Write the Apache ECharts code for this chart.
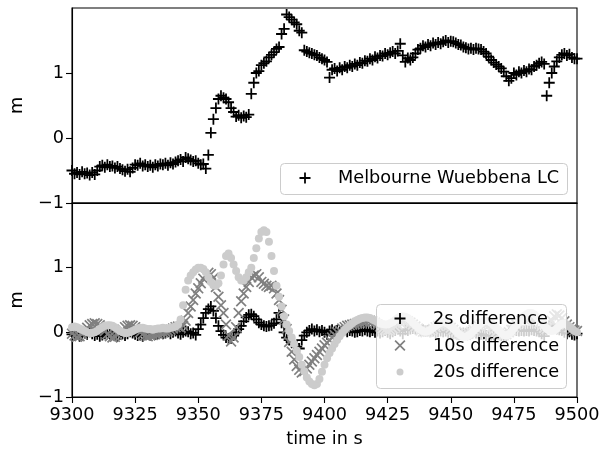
<!DOCTYPE html>
<html>
<head>
<meta charset="utf-8">
<script src="https://cdn.jsdelivr.net/npm/echarts@6/dist/echarts.min.js"></script>
<style>html,body{margin:0;padding:0;background:#fff}#c{width:600px;height:453px}</style>
</head>
<body>
<div id="c"></div>
<script>
// time axis: one sample per second, 9300 .. 9500
const tStart = 9300;
const xTicks = [9300, 9325, 9350, 9375, 9400, 9425, 9450, 9475, 9500];
const yTicks = [-1, 0, 1];

// top panel: Melbourne Wuebbena LC (m)
const wuebbena = [
 -0.50,-0.55,-0.53,-0.56,-0.52,-0.55,-0.54,-0.57,-0.53,-0.56,
 -0.50,-0.44,-0.42,-0.45,-0.41,-0.44,-0.43,-0.46,-0.44,-0.47,
 -0.49,-0.51,-0.48,-0.52,-0.46,-0.41,-0.42,-0.39,-0.43,-0.41,
 -0.44,-0.42,-0.45,-0.41,-0.43,-0.40,-0.41,-0.39,-0.42,-0.38,
 -0.40,-0.37,-0.35,-0.33,-0.36,-0.30,-0.32,-0.34,-0.36,-0.35,
 -0.39,-0.41,-0.40,-0.47,-0.26,0.08,0.29,0.46,0.60,0.65,
 0.62,0.60,0.55,0.46,0.40,0.33,0.35,0.31,0.34,0.32,
 0.36,0.68,0.85,1.00,1.03,1.12,1.15,1.18,1.24,1.28,
 1.32,1.37,1.40,1.60,1.68,1.90,1.86,1.82,1.78,1.75,
 1.65,1.62,1.35,1.33,1.31,1.30,1.28,1.27,1.24,1.22,
 1.20,1.17,0.93,1.05,1.07,1.03,1.08,1.05,1.10,1.08,
 1.12,1.10,1.14,1.12,1.16,1.15,1.19,1.18,1.22,1.20,
 1.25,1.23,1.27,1.26,1.30,1.28,1.31,1.33,1.30,1.34,
 1.45,1.27,1.17,1.23,1.20,1.24,1.30,1.36,1.38,1.42,
 1.40,1.44,1.42,1.46,1.44,1.47,1.45,1.48,1.50,1.47,
 1.49,1.48,1.46,1.44,1.43,1.40,1.39,1.37,1.38,1.36,
 1.38,1.37,1.36,1.33,1.30,1.25,1.20,1.16,1.13,1.10,
 1.07,1.02,0.95,0.88,0.92,1.00,0.97,1.02,1.00,1.04,
 1.02,1.06,1.05,1.10,1.12,1.15,1.17,1.14,0.65,0.85,
 1.00,1.10,1.18,1.24,1.28,1.30,1.27,1.29,1.24,1.22,
 1.22
];

// bottom panel: differences (m)
const diff2s = [
 -0.03,-0.05,-0.02,-0.06,-0.04,-0.01,-0.03,0.01,-0.02,-0.05,
 -0.03,-0.06,-0.04,-0.02,0.00,-0.03,-0.01,-0.04,-0.06,-0.03,
 -0.02,-0.05,-0.02,0.01,-0.01,-0.03,-0.05,-0.04,-0.06,-0.03,
 -0.02,-0.04,-0.01,-0.03,-0.02,0.00,-0.02,-0.01,0.01,-0.02,
 0.00,0.02,-0.01,-0.03,0.00,0.02,0.01,-0.02,-0.01,-0.04,
 0.05,0.12,0.22,0.30,0.36,0.40,0.33,0.22,0.10,0.02,
 -0.04,-0.08,-0.10,-0.09,-0.05,0.00,0.05,0.10,0.17,0.23,
 0.27,0.28,0.25,0.20,0.15,0.12,0.10,0.09,0.10,0.11,
 0.14,0.20,0.30,0.15,0.00,-0.08,-0.12,-0.16,-0.18,-0.22,
 -0.25,-0.12,-0.05,0.00,0.03,0.05,0.02,0.04,0.01,0.03,
 0.00,-0.03,0.02,0.04,0.01,0.03,0.00,0.02,0.04,0.01,
 0.03,0.02,0.00,0.01,0.03,0.02,0.04,0.02,0.01,0.03,
 0.00,0.02,-0.01,0.01,0.03,0.00,-0.02,0.01,0.03,0.05,
 0.02,-0.02,0.04,0.03,0.05,0.06,0.05,0.06,0.03,0.04,
 0.02,0.03,0.01,0.02,0.00,0.01,0.02,0.01,0.02,0.00,
 -0.01,-0.02,-0.01,-0.03,-0.02,-0.01,-0.02,0.00,-0.01,0.01,
 -0.01,-0.02,-0.03,-0.04,-0.05,-0.05,-0.04,-0.04,-0.03,-0.03,
 -0.05,-0.07,-0.05,0.02,0.03,0.04,0.03,0.02,0.03,0.02,
 0.03,0.02,0.04,0.03,0.02,0.01,-0.02,-0.06,0.05,0.10,
 0.08,0.06,0.05,0.04,0.03,0.00,-0.02,0.01,-0.03,-0.04,
 -0.02
];
const diff10s = [
 -0.02,-0.05,-0.07,-0.06,-0.03,0.02,0.07,0.11,0.13,0.14,
 0.13,0.11,0.07,0.02,-0.03,-0.06,-0.08,-0.07,-0.04,0.00,
 0.04,0.08,0.10,0.11,0.10,0.08,0.04,0.00,-0.03,-0.05,
 -0.06,-0.05,-0.04,-0.03,-0.02,-0.01,0.00,0.01,0.02,0.04,
 0.06,0.08,0.09,0.07,0.10,0.18,0.30,0.40,0.50,0.60,
 0.68,0.76,0.83,0.88,0.92,0.90,0.84,0.70,0.55,0.42,
 0.30,0.12,-0.05,-0.14,-0.08,0.08,0.30,0.48,0.60,0.70,
 0.78,0.85,0.88,0.90,0.85,0.78,0.75,0.72,0.70,0.72,
 0.68,0.60,0.50,0.35,0.20,0.05,-0.15,-0.30,-0.42,-0.52,
 -0.58,-0.62,-0.60,-0.56,-0.50,-0.45,-0.40,-0.35,-0.30,-0.25,
 -0.20,-0.16,-0.12,-0.08,-0.04,0.00,0.03,0.06,0.08,0.10,
 0.11,0.12,0.13,0.14,0.15,0.16,0.17,0.18,0.18,0.17,
 0.15,0.12,0.09,0.06,0.04,0.03,0.04,0.06,0.09,0.12,
 0.15,0.17,0.18,0.17,0.15,0.12,0.09,0.06,0.03,0.01,
 0.00,0.01,0.03,0.05,0.08,0.10,0.12,0.13,0.12,0.10,
 0.07,0.04,0.01,-0.02,-0.04,-0.05,-0.04,-0.02,0.01,0.04,
 0.07,0.10,0.12,0.13,0.12,0.10,0.07,0.04,0.01,-0.02,
 -0.04,-0.05,-0.03,0.00,0.04,0.08,0.12,0.15,0.18,0.20,
 0.22,0.23,0.22,0.20,0.17,0.14,0.10,0.07,0.05,0.10,
 0.18,0.25,0.28,0.26,0.22,0.17,0.12,0.08,0.05,0.03,
 0.02
];
const diff20s = [
 0.08,0.09,0.08,0.06,0.04,0.02,0.00,-0.01,-0.01,0.00,
 0.02,0.05,0.08,0.10,0.11,0.11,0.10,0.08,0.05,0.02,
 0.00,-0.01,-0.01,0.00,0.02,0.04,0.06,0.07,0.07,0.06,
 0.05,0.05,0.04,0.05,0.06,0.06,0.07,0.06,0.06,0.07,
 0.08,0.09,0.12,0.20,0.42,0.66,0.80,0.88,0.93,0.97,
 1.00,1.00,0.98,0.93,0.85,0.78,0.73,0.72,0.76,0.88,
 1.05,1.18,1.22,1.15,1.05,0.95,0.85,0.80,0.80,0.85,
 0.93,1.00,1.15,1.30,1.45,1.55,1.58,1.55,1.40,1.18,
 0.95,0.72,0.55,0.40,0.25,0.12,0.02,-0.08,-0.18,-0.28,
 -0.38,-0.50,-0.60,-0.70,-0.76,-0.80,-0.82,-0.80,-0.72,-0.61,
 -0.50,-0.40,-0.32,-0.25,-0.18,-0.12,-0.06,-0.01,0.04,0.08,
 0.11,0.14,0.17,0.19,0.21,0.22,0.23,0.23,0.22,0.20,
 0.18,0.16,0.14,0.13,0.12,0.12,0.14,0.16,0.19,0.22,
 0.24,0.25,0.24,0.22,0.19,0.15,0.11,0.07,0.04,0.02,
 0.01,0.02,0.04,0.07,0.10,0.13,0.15,0.16,0.15,0.13,
 0.10,0.06,0.02,-0.02,-0.05,-0.07,-0.07,-0.05,-0.02,0.02,
 0.06,0.10,0.14,0.17,0.18,0.17,0.15,0.11,0.07,0.03,
 -0.01,-0.04,-0.05,-0.03,0.01,0.06,0.11,0.16,0.21,0.25,
 0.28,0.30,0.30,0.28,0.24,0.20,0.15,0.10,0.06,0.03,
 0.02,0.03,0.06,0.10,0.13,0.14,0.12,0.09,0.05,0.02,
 0.00
];

const seriesNames = ['Melbourne Wuebbena LC', '2s difference', '10s difference', '20s difference'];

const toPairs = arr => arr.map((v, i) => [tStart + i, v]);
const PLUS_PTS = [[4.2,0],[5.8,0],[5.8,4.2],[10,4.2],[10,5.8],[5.8,5.8],[5.8,10],[4.2,10],[4.2,5.8],[0,5.8],[0,4.2],[4.2,4.2]];
const CROSS_PTS = [[0,1.1],[1.1,0],[5,3.9],[8.9,0],[10,1.1],[6.1,5],[10,8.9],[8.9,10],[5,6.1],[1.1,10],[0,8.9],[3.9,5]];
const toPathSymbol = pts => 'path://M' + pts.map(p => p[0] + ',' + p[1]).join('L') + 'Z';
const PLUS = toPathSymbol(PLUS_PTS);
const CROSS = toPathSymbol(CROSS_PTS);
const FONT = 'DejaVu Sans';
const FS = 17.7;
const minus = v => String(v).replace('-', '\u2212');

const chart = echarts.init(document.getElementById('c'), null, {renderer: 'canvas'});
const xAxisBase = {
  type: 'value', min: 9300, max: 9500, interval: 25,
  axisLine: {show: true, onZero: false, lineStyle: {color: '#000', width: 1.1}},
  splitLine: {show: false}
};
const yAxisBase = {
  type: 'value', min: -1, max: 2, interval: 1,
  name: 'm', nameLocation: 'middle', nameGap: 46, nameRotate: 90,
  nameTextStyle: {fontFamily: FONT, fontSize: FS, color: '#000'},
  axisLine: {show: true, onZero: false, lineStyle: {color: '#000', width: 1.1}},
  axisTick: {show: true, length: 6, lineStyle: {color: '#000', width: 1.1}, customValues: yTicks},
  axisLabel: {fontFamily: FONT, fontSize: FS, color: '#000', margin: 8, customValues: yTicks, formatter: minus},
  splitLine: {show: false}
};

// legend boxes (matplotlib style: translucent white, light grey rounded frame)
const legendFrame = (x, y, w, h) => ({
  type: 'rect', z: 50, shape: {x: x, y: y, width: w, height: h, r: 4},
  style: {fill: 'rgba(255,255,255,0.8)', stroke: '#cccccc', lineWidth: 1}
});
const iconPoly = (pts, cx, cy, color) => ({
  type: 'polygon', z: 51,
  shape: {points: pts.map(p => [cx - 5.5 + p[0] * 1.1, cy - 5.5 + p[1] * 1.1])},
  style: {fill: color}
});
const legendText = (txt, x, y) => ({
  type: 'text', z: 51, x: x, y: y,
  style: {text: txt, fontFamily: FONT, fontSize: FS, fill: '#000', verticalAlign: 'middle', align: 'left'}
});

chart.setOption({
  animation: false,
  backgroundColor: '#fff',
  grid: [
    {left: 72, right: 23, top: 8, height: 195, show: true, borderColor: '#000', borderWidth: 1.1, outerBoundsMode: 'none'},
    {left: 72, right: 23, top: 203, height: 194, show: true, borderColor: '#000', borderWidth: 1.1, outerBoundsMode: 'none'}
  ],
  xAxis: [
    Object.assign({}, xAxisBase, {gridIndex: 0, axisTick: {show: false}, axisLabel: {show: false}}),
    Object.assign({}, xAxisBase, {gridIndex: 1,
      name: 'time in s', nameLocation: 'middle', nameGap: 33,
      nameTextStyle: {fontFamily: FONT, fontSize: FS, color: '#000'},
      axisTick: {show: true, length: 6, lineStyle: {color: '#000', width: 1.1}, customValues: xTicks},
      axisLabel: {fontFamily: FONT, fontSize: FS, color: '#000', margin: 9, customValues: xTicks,
        formatter: v => String(v)}})
  ],
  yAxis: [
    Object.assign({}, yAxisBase, {gridIndex: 0}),
    Object.assign({}, yAxisBase, {gridIndex: 1})
  ],
  graphic: [
    legendFrame(280.5, 163.5, 287, 31),
    iconPoly(PLUS_PTS, 305, 178, '#000'),
    legendText(seriesNames[0], 338, 178.5),
    legendFrame(376.5, 304.5, 190, 84),
    iconPoly(PLUS_PTS, 400, 318.5, '#000'),
    legendText(seriesNames[1], 433, 319),
    iconPoly(CROSS_PTS, 400, 345.5, '#808080'),
    legendText(seriesNames[2], 433, 346),
    {type: 'circle', z: 51, shape: {cx: 400, cy: 372, r: 3.5}, style: {fill: '#cccccc'}},
    legendText(seriesNames[3], 433, 372.5)
  ],
  series: [
    {name: seriesNames[0], type: 'scatter', xAxisIndex: 0, yAxisIndex: 0, data: toPairs(wuebbena),
     symbol: PLUS, symbolSize: 11, itemStyle: {color: '#000', opacity: 1}},
    {name: seriesNames[1], type: 'scatter', xAxisIndex: 1, yAxisIndex: 1, data: toPairs(diff2s),
     symbol: PLUS, symbolSize: 11, itemStyle: {color: '#000', opacity: 1}},
    {name: seriesNames[2], type: 'scatter', xAxisIndex: 1, yAxisIndex: 1, data: toPairs(diff10s),
     symbol: CROSS, symbolSize: 11, itemStyle: {color: '#808080', opacity: 1}},
    {name: seriesNames[3], type: 'scatter', xAxisIndex: 1, yAxisIndex: 1, data: toPairs(diff20s),
     symbol: 'circle', symbolSize: 8, itemStyle: {color: '#cccccc', opacity: 1}}
  ]
});
</script>
</body>
</html>
